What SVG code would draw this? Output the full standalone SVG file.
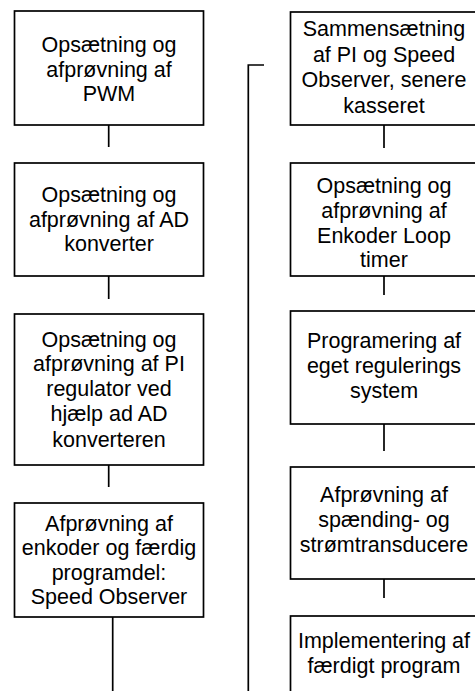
<svg xmlns="http://www.w3.org/2000/svg" width="475" height="691" viewBox="0 0 475 691">
  <style>
    .box { fill: #fff; stroke: #000; stroke-width: 1.7; }
    .lbl { font-family: "Liberation Sans", Arial, sans-serif; font-size: 21.5px; fill: #000; text-anchor: middle; }
    .conn { fill: none; stroke: #000; stroke-width: 1.7; }
  </style>
  <rect width="475" height="691" fill="#fff"/>

  <!-- connectors -->
  <g id="connectors">
    <path class="conn" d="M108.7,125 V147"/>
    <path class="conn" d="M108.7,276 V299"/>
    <path class="conn" d="M108.7,465 V487"/>
    <path class="conn" d="M112.7,617 V691"/>
    <path class="conn" d="M384,125 V148"/>
    <path class="conn" d="M384,276 V295"/>
    <path class="conn" d="M384,424 V451"/>
    <path class="conn" d="M384,579 V598"/>
    <path class="conn" d="M264,65 H248.3 V691"/>
  </g>

  <!-- left column -->
  <g id="n-pwm">
    <rect class="box" x="14.5" y="11" width="189" height="114"/>
    <text class="lbl" x="109" y="52">Opsætning og</text>
    <text class="lbl" x="109" y="76.5">afprøvning af</text>
    <text class="lbl" x="109" y="101">PWM</text>
  </g>
  <g id="n-ad">
    <rect class="box" x="14.5" y="163" width="189" height="113"/>
    <text class="lbl" x="109" y="202">Opsætning og</text>
    <text class="lbl" x="109" y="226.5">afprøvning af AD</text>
    <text class="lbl" x="109" y="251">konverter</text>
  </g>
  <g id="n-pi">
    <rect class="box" x="14.5" y="314" width="189" height="151"/>
    <text class="lbl" x="109" y="346.5">Opsætning og</text>
    <text class="lbl" x="109" y="371">afprøvning af PI</text>
    <text class="lbl" x="109" y="396">regulator ved</text>
    <text class="lbl" x="109" y="421">hjælp ad AD</text>
    <text class="lbl" x="109" y="446.5">konverteren</text>
  </g>
  <g id="n-enkoder">
    <rect class="box" x="14.5" y="503" width="189" height="114"/>
    <text class="lbl" x="109" y="530.5">Afprøvning af</text>
    <text class="lbl" x="109" y="555">enkoder og færdig</text>
    <text class="lbl" x="109" y="579.5">programdel:</text>
    <text class="lbl" x="109" y="604">Speed Observer</text>
  </g>

  <!-- right column -->
  <g id="n-samm">
    <rect class="box" x="290.5" y="12" width="189" height="113"/>
    <text class="lbl" x="384" y="36">Sammensætning</text>
    <text class="lbl" x="384" y="61.5">af PI og Speed</text>
    <text class="lbl" x="384" y="87">Observer, senere</text>
    <text class="lbl" x="384" y="112.5">kasseret</text>
  </g>
  <g id="n-loop">
    <rect class="box" x="290.5" y="163" width="189" height="113"/>
    <text class="lbl" x="384" y="193">Opsætning og</text>
    <text class="lbl" x="384" y="218">afprøvning af</text>
    <text class="lbl" x="384" y="243">Enkoder Loop</text>
    <text class="lbl" x="384" y="267">timer</text>
  </g>
  <g id="n-reg">
    <rect class="box" x="290.5" y="311" width="189" height="113"/>
    <text class="lbl" x="384" y="348">Programering af</text>
    <text class="lbl" x="384" y="373">eget regulerings</text>
    <text class="lbl" x="384" y="398">system</text>
  </g>
  <g id="n-trans">
    <rect class="box" x="290.5" y="467" width="189" height="112"/>
    <text class="lbl" x="384" y="502">Afprøvning af</text>
    <text class="lbl" x="384" y="527">spænding- og</text>
    <text class="lbl" x="384" y="552">strømtransducere</text>
  </g>
  <g id="n-impl">
    <rect class="box" x="290.5" y="616" width="189" height="100"/>
    <text class="lbl" x="384" y="648">Implementering af</text>
    <text class="lbl" x="384" y="673">færdigt program</text>
  </g>
</svg>
